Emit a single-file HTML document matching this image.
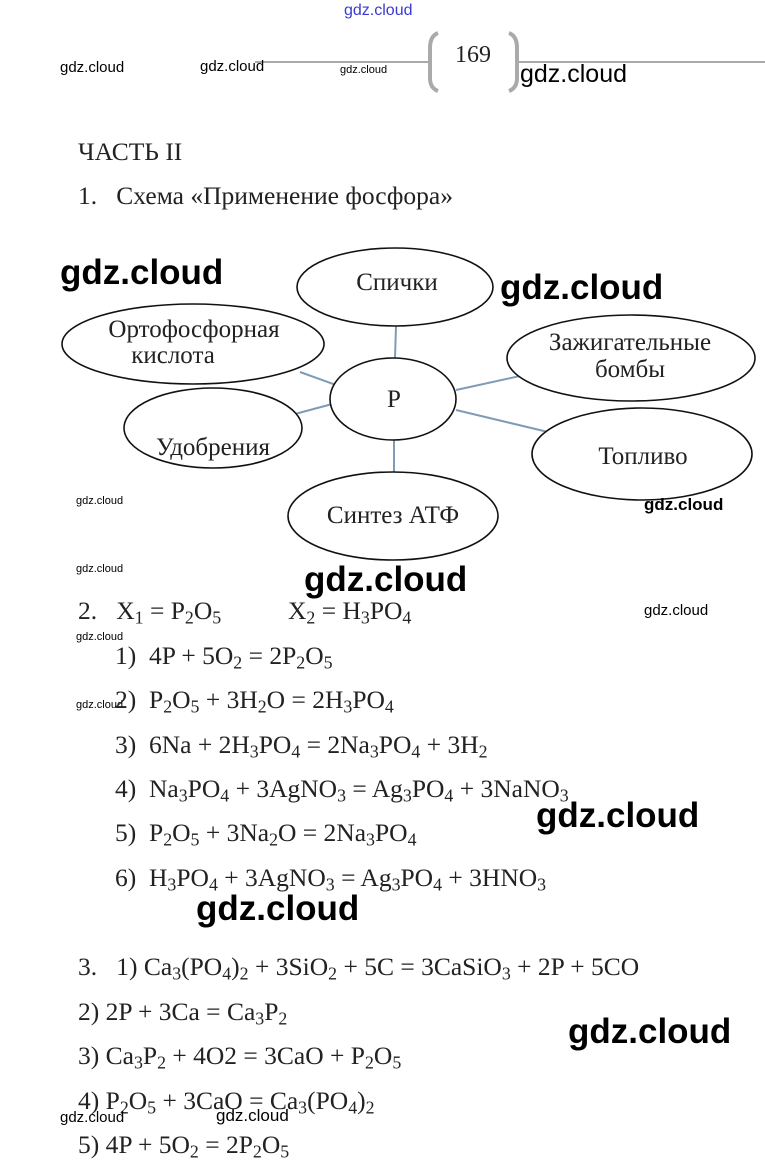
<!DOCTYPE html>
<html><head><meta charset="utf-8"><style>
body{margin:0;width:765px;height:1168px;background:#fff;position:relative;overflow:hidden;font-family:"Liberation Serif",serif;color:#222}
.t{position:absolute;white-space:nowrap;font-size:25.5px;line-height:1}
.w{position:absolute;white-space:nowrap;font-family:"Liberation Sans",sans-serif;color:#000;line-height:1}
sub{font-size:70%;vertical-align:-0.25em;line-height:0}
</style></head><body>
<div class="w" style="left:344px;top:3px;font-size:16px;color:#3a3ad0">gdz.cloud</div>
<div style="position:absolute;left:255px;top:61px;width:175px;height:2px;background:#aaa"></div>
<div style="position:absolute;left:518px;top:61px;width:247px;height:2px;background:#aaa"></div>
<svg style="position:absolute;left:0;top:0" width="765" height="1168">
<path d="M438 33 Q430 36 430 48 L430 78 Q430 88 438 91" fill="none" stroke="#aaa" stroke-width="4"/>
<path d="M509 33 Q517 36 517 48 L517 78 Q517 88 509 91" fill="none" stroke="#aaa" stroke-width="4"/>
<g stroke="#7f9bb5" stroke-width="2">
<line x1="396" y1="326" x2="395" y2="358"/>
<line x1="300" y1="372" x2="336" y2="385"/>
<line x1="520" y1="376" x2="456" y2="390"/>
<line x1="548" y1="432" x2="456" y2="410"/>
<line x1="295" y1="414" x2="336" y2="403"/>
<line x1="394" y1="440" x2="394" y2="472"/>
</g>
<g fill="#fff" stroke="#111" stroke-width="1.6">
<ellipse cx="395" cy="287" rx="98" ry="39"/>
<ellipse cx="193" cy="344" rx="131" ry="40"/>
<ellipse cx="631" cy="358" rx="124" ry="43"/>
<ellipse cx="393" cy="399" rx="63" ry="41"/>
<ellipse cx="213" cy="428" rx="89" ry="40"/>
<ellipse cx="642" cy="454" rx="110" ry="46"/>
<ellipse cx="393" cy="516" rx="105" ry="44"/>
</g>
<g font-family="Liberation Serif,serif" font-size="25" fill="#222" text-anchor="middle">
<text x="397" y="290">Спички</text>
<text x="194" y="337">Ортофосфорная</text>
<text x="173" y="363">кислота</text>
<text x="630" y="350">Зажигательные</text>
<text x="630" y="377">бомбы</text>
<text x="394" y="407">P</text>
<text x="213" y="455">Удобрения</text>
<text x="643" y="464">Топливо</text>
<text x="393" y="523">Синтез АТФ</text>
</g>
</svg>
<div class="t" style="left:455px;top:43px;font-size:24px">169</div>
<div class="w" style="left:60px;top:60px;font-size:15px">gdz.cloud</div>
<div class="w" style="left:200px;top:59px;font-size:15px">gdz.cloud</div>
<div class="w" style="left:340px;top:65px;font-size:11px">gdz.cloud</div>
<div class="w" style="left:520px;top:62px;font-size:25px">gdz.cloud</div>
<div class="t" style="left:78px;top:139px">ЧАСТЬ II</div>
<div class="t" style="left:78px;top:183px">1.&nbsp;&nbsp; Схема «Применение фосфора»</div>
<div class="w" style="left:60px;top:255px;font-size:35px;font-weight:bold">gdz.cloud</div>
<div class="w" style="left:500px;top:270px;font-size:35px;font-weight:bold">gdz.cloud</div>
<div class="w" style="left:76px;top:496px;font-size:11px">gdz.cloud</div>
<div class="w" style="left:644px;top:496px;font-size:17px;font-weight:bold">gdz.cloud</div>
<div class="w" style="left:76px;top:564px;font-size:11px">gdz.cloud</div>
<div class="w" style="left:304px;top:562px;font-size:35px;font-weight:bold">gdz.cloud</div>
<div class="t" style="left:78px;top:598px">2.&nbsp;&nbsp; X<sub>1</sub> = P<sub>2</sub>O<sub>5</sub></div>
<div class="t" style="left:288px;top:598px">X<sub>2</sub> = H<sub>3</sub>PO<sub>4</sub></div>
<div class="w" style="left:644px;top:603px;font-size:15px">gdz.cloud</div>
<div class="w" style="left:76px;top:632px;font-size:11px">gdz.cloud</div>
<div class="t" style="left:115px;top:643px">1)&nbsp; 4P + 5O<sub>2</sub> = 2P<sub>2</sub>O<sub>5</sub></div>
<div class="w" style="left:76px;top:700px;font-size:11px">gdz.cloud</div>
<div class="t" style="left:115px;top:687px">2)&nbsp; P<sub>2</sub>O<sub>5</sub> + 3H<sub>2</sub>O = 2H<sub>3</sub>PO<sub>4</sub></div>
<div class="t" style="left:115px;top:732px">3)&nbsp; 6Na + 2H<sub>3</sub>PO<sub>4</sub> = 2Na<sub>3</sub>PO<sub>4</sub> + 3H<sub>2</sub></div>
<div class="t" style="left:115px;top:776px">4)&nbsp; Na<sub>3</sub>PO<sub>4</sub> + 3AgNO<sub>3</sub> = Ag<sub>3</sub>PO<sub>4</sub> + 3NaNO<sub>3</sub></div>
<div class="w" style="left:536px;top:798px;font-size:35px;font-weight:bold">gdz.cloud</div>
<div class="t" style="left:115px;top:820px">5)&nbsp; P<sub>2</sub>O<sub>5</sub> + 3Na<sub>2</sub>O = 2Na<sub>3</sub>PO<sub>4</sub></div>
<div class="t" style="left:115px;top:865px">6)&nbsp; H<sub>3</sub>PO<sub>4</sub> + 3AgNO<sub>3</sub> = Ag<sub>3</sub>PO<sub>4</sub> + 3HNO<sub>3</sub></div>
<div class="w" style="left:196px;top:891px;font-size:35px;font-weight:bold">gdz.cloud</div>
<div class="t" style="left:78px;top:954px">3.&nbsp;&nbsp; 1) Ca<sub>3</sub>(PO<sub>4</sub>)<sub>2</sub> + 3SiO<sub>2</sub> + 5C = 3CaSiO<sub>3</sub> + 2P + 5CO</div>
<div class="t" style="left:78px;top:999px">2) 2P + 3Ca = Ca<sub>3</sub>P<sub>2</sub></div>
<div class="w" style="left:568px;top:1014px;font-size:35px;font-weight:bold">gdz.cloud</div>
<div class="t" style="left:78px;top:1043px">3) Ca<sub>3</sub>P<sub>2</sub> + 4O2 = 3CaO + P<sub>2</sub>O<sub>5</sub></div>
<div class="t" style="left:78px;top:1088px">4) P<sub>2</sub>O<sub>5</sub> + 3CaO = Ca<sub>3</sub>(PO<sub>4</sub>)<sub>2</sub></div>
<div class="w" style="left:60px;top:1110px;font-size:15px">gdz.cloud</div>
<div class="w" style="left:216px;top:1107px;font-size:17px">gdz.cloud</div>
<div class="t" style="left:78px;top:1132px">5) 4P + 5O<sub>2</sub> = 2P<sub>2</sub>O<sub>5</sub></div>
</body></html>
